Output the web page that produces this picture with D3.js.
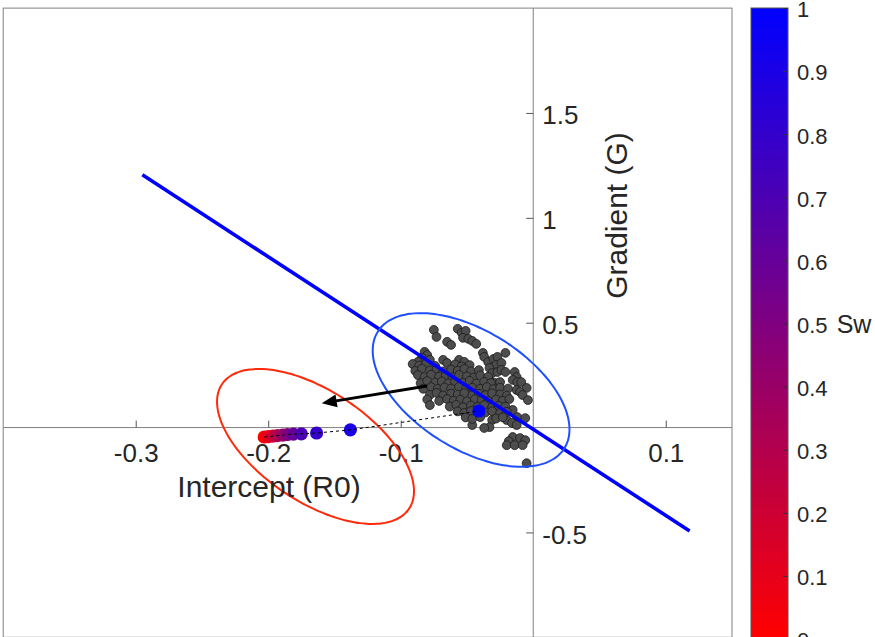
<!DOCTYPE html>
<html>
<head>
<meta charset="utf-8">
<script src="https://cdn.jsdelivr.net/npm/d3@7"></script>
<style>
  body { margin: 0; background: #fff; }
  text { font-family: "Liberation Sans", Arial, Helvetica, sans-serif; fill: #262626; }
</style>
</head>
<body>
<svg id="chart" width="875" height="637"></svg>
<script>
// ---- Data -------------------------------------------------------------
// Measured AVO attributes: [intercept R0, gradient G]
const measured = [
  [-0.075,0.466],[-0.073,0.432],[-0.057,0.471],[-0.054,0.452],[-0.051,0.461],[-0.053,0.428],
  [-0.049,0.423],[-0.046,0.413],[-0.043,0.399],[-0.065,0.409],[-0.062,0.394],[-0.038,0.356],
  [-0.037,0.337],[-0.021,0.356],[-0.082,0.361],[-0.080,0.346],[-0.084,0.332],[-0.087,0.313],
  [-0.078,0.323],[-0.068,0.323],[-0.065,0.308],[-0.056,0.323],[-0.052,0.313],[-0.034,0.313],
  [-0.030,0.327],[-0.027,0.337],[-0.028,0.299],[-0.024,0.308],[-0.033,0.284],[-0.031,0.260],
  [-0.027,0.265],[-0.024,0.275],[-0.021,0.265],[-0.014,0.265],[-0.0125,0.241],[-0.0155,0.227],
  [-0.012,0.217],[-0.009,0.217],[-0.005,0.189],[-0.033,0.227],[-0.029,0.213],[-0.025,0.217],
  [-0.0125,0.179],[-0.010,0.170],[-0.008,0.155],[-0.004,0.131],[-0.0155,0.084],[-0.012,0.050],
  [-0.006,0.045],[-0.020,0.036],[-0.016,0.022],[-0.0125,0.012],[-0.031,0.036],[-0.033,0.002],
  [-0.037,-0.002],[-0.046,0.012],[-0.0155,-0.045],[-0.0185,-0.065],[-0.020,-0.084],[-0.014,-0.084],
  [-0.010,-0.050],[-0.006,-0.060],[-0.008,-0.084],[-0.005,-0.170],
  [-0.091,0.303],[-0.086,0.296],[-0.081,0.305],[-0.074,0.294],[-0.059,0.301],[-0.054,0.292],[-0.048,0.298],
  [-0.089,0.270],[-0.084,0.281],[-0.078,0.272],[-0.073,0.279],[-0.068,0.268],[-0.062,0.277],[-0.057,0.271],
  [-0.052,0.280],[-0.047,0.268],[-0.041,0.274],
  [-0.087,0.250],[-0.082,0.241],[-0.077,0.252],[-0.071,0.243],[-0.066,0.249],[-0.061,0.240],[-0.056,0.251],
  [-0.050,0.244],[-0.045,0.238],[-0.040,0.249],[-0.034,0.242],
  [-0.085,0.212],[-0.080,0.222],[-0.074,0.214],[-0.069,0.220],[-0.064,0.211],[-0.059,0.219],[-0.053,0.213],
  [-0.048,0.223],[-0.043,0.210],[-0.037,0.218],[-0.032,0.212],
  [-0.083,0.185],[-0.077,0.193],[-0.072,0.184],[-0.067,0.191],[-0.062,0.186],[-0.056,0.194],[-0.051,0.182],
  [-0.046,0.190],[-0.040,0.185],[-0.035,0.193],[-0.030,0.183],[-0.025,0.190],[-0.019,0.186],
  [-0.078,0.156],[-0.073,0.165],[-0.068,0.153],[-0.062,0.162],[-0.057,0.157],[-0.052,0.164],[-0.046,0.154],
  [-0.041,0.161],[-0.036,0.155],[-0.031,0.163],[-0.025,0.158],[-0.020,0.152],
  [-0.080,0.134],[-0.071,0.127],[-0.065,0.136],[-0.060,0.128],[-0.055,0.133],[-0.050,0.125],[-0.044,0.135],
  [-0.039,0.129],[-0.034,0.126],[-0.028,0.134],[-0.023,0.128],[-0.018,0.136],[-0.078,0.107],
  [-0.063,0.100],[-0.058,0.108],[-0.053,0.097],[-0.047,0.105],[-0.042,0.099],[-0.037,0.107],[-0.031,0.098],
  [-0.026,0.104],[-0.021,0.100],
  [-0.057,0.077],[-0.052,0.070],[-0.047,0.079],[-0.036,0.072],[-0.031,0.078],[-0.025,0.069],[-0.020,0.075],
  [-0.051,0.048],[-0.046,0.041],[-0.040,0.050],[-0.028,0.043],[-0.023,0.049]
];

// Fluid substitution path: water saturation and modelled R0 / G
const sw   = [0, 0.1, 0.2, 0.3, 0.4, 0.5, 0.6, 0.7, 0.8, 0.9, 1];
const swR0 = [-0.203, -0.200, -0.1965, -0.193, -0.189, -0.1855, -0.181, -0.175, -0.1635, -0.138, -0.041];
const swG  = [-0.045, -0.043, -0.041, -0.038, -0.036, -0.033, -0.031, -0.030, -0.026, -0.011, 0.079];

// Background trend line (end points in R0 / G)
const trendR0 = [-0.295, 0.118];
const trendG  = [1.205, -0.493];

// Confidence ellipses: centre, first semi-axis, second semi-axis (R0, G)
const brineEllipse = [-0.0469, 0.1793, 0.0704, -0.2780, -0.0236, -0.2386];
const gasEllipse   = [-0.1643, -0.0901, 0.0706, -0.2966, -0.0232, -0.2203];

// Shift arrow (from, to)
const arrowR0 = [-0.0802, -0.1596];
const arrowG  = [0.198, 0.116];

// Ticks
const xTicks = [-0.3, -0.2, -0.1, 0.1];
const xTickLabels = ["-0.3", "-0.2", "-0.1", "0.1"];
const yTicks = [-0.5, 0.5, 1, 1.5];
const yTickLabels = ["-0.5", "0.5", "1", "1.5"];
const cbTicks = [0, 0.1, 0.2, 0.3, 0.4, 0.5, 0.6, 0.7, 0.8, 0.9, 1];
const cbTickLabels = ["0", "0.1", "0.2", "0.3", "0.4", "0.5", "0.6", "0.7", "0.8", "0.9", "1"];

// ---- Scales -----------------------------------------------------------
const svg = d3.select("#chart");
const x = d3.scaleLinear().domain([-0.4, 0.15]).range([3.2, 732]);
const y = d3.scaleLinear().domain([-1, 2]).range([637.3, 8.1]);
const color = d3.scaleLinear().domain([0, 1]).range(["#ff0000", "#0000ff"]).interpolate(d3.interpolateRgb);

const axisColor = "#808080";
const fontStack = '"Liberation Sans", Arial, Helvetica, sans-serif';

// plot frame
svg.append("rect")
  .attr("x", x(-0.4)).attr("y", y(2))
  .attr("width", x(0.15) - x(-0.4)).attr("height", y(-1) - y(2))
  .attr("fill", "none").attr("stroke", axisColor).attr("stroke-width", 1);

// clip region for data marks
svg.append("clipPath").attr("id", "plotClip")
  .append("rect")
  .attr("x", x(-0.4)).attr("y", y(2))
  .attr("width", x(0.15) - x(-0.4)).attr("height", y(-1) - y(2));

// axes through the origin
svg.append("line")
  .attr("x1", x(-0.4)).attr("x2", x(0.15)).attr("y1", y(0)).attr("y2", y(0))
  .attr("stroke", axisColor).attr("stroke-width", 1);
svg.append("line")
  .attr("x1", x(0)).attr("x2", x(0)).attr("y1", y(2)).attr("y2", y(-1))
  .attr("stroke", axisColor).attr("stroke-width", 1);

const xAxis = d3.axisBottom(x)
  .tickValues(xTicks)
  .tickFormat((d, i) => xTickLabels[i])
  .tickSizeInner(-7).tickSizeOuter(0).tickPadding(16);
const gx = svg.append("g").attr("transform", `translate(0,${y(0)})`).call(xAxis);

const yAxis = d3.axisRight(y)
  .tickValues(yTicks)
  .tickFormat((d, i) => yTickLabels[i])
  .tickSizeInner(-7).tickSizeOuter(0).tickPadding(9);
const gy = svg.append("g").attr("transform", `translate(${x(0)},0)`).call(yAxis);

[gx, gy].forEach(g => {
  g.select(".domain").remove();
  g.selectAll(".tick line").attr("stroke", "#555");
  g.selectAll(".tick text")
    .style("font-size", "26px")
    .style("font-family", fontStack)
    .attr("fill", "#262626");
});
gy.selectAll(".tick text").attr("dy", "0.42em");

// ---- Data marks -------------------------------------------------------
const plot = svg.append("g").attr("clip-path", "url(#plotClip)");

plot.append("g").selectAll("circle")
  .data(measured)
  .join("circle")
  .attr("cx", d => x(d[0]))
  .attr("cy", d => y(d[1]))
  .attr("r", 4.4)
  .attr("fill", "#4d4d4d")
  .attr("stroke", "#1a1a1a")
  .attr("stroke-width", 0.8);

// trend line
plot.append("line")
  .attr("x1", x(trendR0[0])).attr("y1", y(trendG[0]))
  .attr("x2", x(trendR0[1])).attr("y2", y(trendG[1]))
  .attr("stroke", "#0000ff").attr("stroke-width", 3.6);

// ellipses
function ellipsePath(e) {
  const ts = d3.range(0, 360, 3).map(a => a * Math.PI / 180);
  return d3.line()
    .x(t => x(e[0] + e[2] * Math.cos(t) + e[4] * Math.sin(t)))
    .y(t => y(e[1] + e[3] * Math.cos(t) + e[5] * Math.sin(t)))
    .curve(d3.curveCardinalClosed)(ts);
}
plot.append("path").attr("d", ellipsePath(brineEllipse))
  .attr("fill", "none").attr("stroke", "#1f4fff").attr("stroke-width", 2);
plot.append("path").attr("d", ellipsePath(gasEllipse))
  .attr("fill", "none").attr("stroke", "#ff2a0a").attr("stroke-width", 2);

// arrow
{
  const x0 = x(arrowR0[0]), y0 = y(arrowG[0]);
  const x1 = x(arrowR0[1]), y1 = y(arrowG[1]);
  const ang = Math.atan2(y1 - y0, x1 - x0);
  const headLen = 15, headHalf = 6.5;
  const bx = x1 - headLen * Math.cos(ang), by = y1 - headLen * Math.sin(ang);
  plot.append("line")
    .attr("x1", x0).attr("y1", y0).attr("x2", bx + 2 * Math.cos(ang)).attr("y2", by + 2 * Math.sin(ang))
    .attr("stroke", "#000").attr("stroke-width", 3);
  const px = -Math.sin(ang), py = Math.cos(ang);
  plot.append("polygon")
    .attr("points", [
      [x1, y1],
      [bx + headHalf * px, by + headHalf * py],
      [bx - headHalf * px, by - headHalf * py]
    ].map(p => p.join(",")).join(" "))
    .attr("fill", "#000");
}

// saturation points
const swPts = sw.map((s, i) => ({ s, r0: swR0[i], g: swG[i] }));
plot.append("g").selectAll("circle")
  .data(swPts)
  .join("circle")
  .attr("cx", d => x(d.r0))
  .attr("cy", d => y(d.g))
  .attr("r", 6.6)
  .attr("fill", d => color(d.s));

// dashed path through the saturation points
plot.append("path")
  .datum(swPts)
  .attr("d", d3.line().x(d => x(d.r0)).y(d => y(d.g)))
  .attr("fill", "none").attr("stroke", "#000").attr("stroke-width", 1)
  .attr("stroke-dasharray", "3,3");

// axis titles
svg.append("text")
  .attr("x", 269).attr("y", 497)
  .attr("text-anchor", "middle")
  .style("font-size", "30px")
  .text("Intercept (R0)");
svg.append("text")
  .attr("transform", "translate(627,215.5) rotate(-90)")
  .attr("text-anchor", "middle")
  .style("font-size", "30px")
  .text("Gradient (G)");

// ---- Colour bar -------------------------------------------------------
const cbY = d3.scaleLinear().domain([0, 1]).range([639, 8]);
const cbX0 = 751, cbW = 37;
const grad = svg.append("defs").append("linearGradient")
  .attr("id", "swGrad").attr("x1", 0).attr("y1", 1).attr("x2", 0).attr("y2", 0);
grad.selectAll("stop")
  .data(d3.range(0, 1.0001, 0.1))
  .join("stop")
  .attr("offset", d => d)
  .attr("stop-color", d => color(d));

svg.append("rect")
  .attr("x", cbX0).attr("y", cbY(1))
  .attr("width", cbW).attr("height", cbY(0) - cbY(1))
  .attr("fill", "url(#swGrad)")
  .attr("stroke", "#555").attr("stroke-width", 1);

const cbAxis = d3.axisRight(cbY)
  .tickValues(cbTicks)
  .tickFormat((d, i) => cbTickLabels[i])
  .tickSizeInner(-5).tickSizeOuter(0).tickPadding(9);
const gcb = svg.append("g").attr("transform", `translate(${cbX0 + cbW},0)`).call(cbAxis);
gcb.select(".domain").remove();
gcb.selectAll(".tick line").attr("stroke", "#333");
gcb.selectAll(".tick text")
  .style("font-size", "22px")
  .style("font-family", fontStack)
  .attr("dy", "0.4em")
  .attr("fill", "#262626");

svg.append("text")
  .attr("x", 836.7).attr("y", 333)
  .style("font-size", "25px")
  .text("Sw");
</script>
</body>
</html>
